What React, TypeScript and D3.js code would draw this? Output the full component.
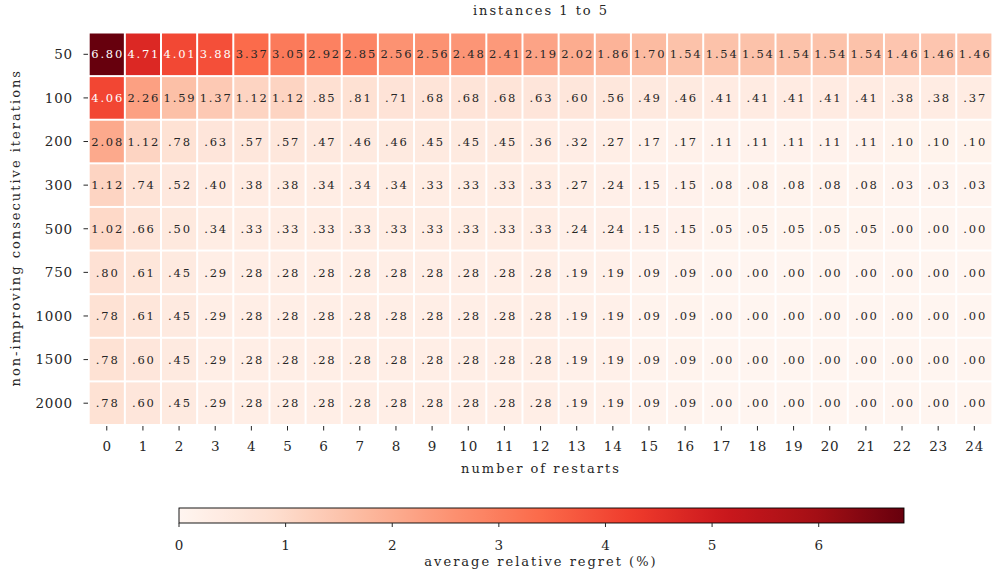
import React from "react";
import * as d3 from "d3";

// Axis categories
const restarts = [0, 1, 2, 3, 4, 5, 6, 7, 8, 9, 10, 11, 12, 13, 14, 15, 16, 17, 18, 19, 20, 21, 22, 23, 24];
const iterations = ["50", "100", "200", "300", "500", "750", "1000", "1500", "2000"];

// Average relative regret (%) per iteration limit, indexed by number of restarts
const regret50 = [6.80, 4.71, 4.01, 3.88, 3.37, 3.05, 2.92, 2.85, 2.56, 2.56, 2.48, 2.41, 2.19, 2.02, 1.86, 1.70, 1.54, 1.54, 1.54, 1.54, 1.54, 1.54, 1.46, 1.46, 1.46];
const regret100 = [4.06, 2.26, 1.59, 1.37, 1.12, 1.12, 0.85, 0.81, 0.71, 0.68, 0.68, 0.68, 0.63, 0.60, 0.56, 0.49, 0.46, 0.41, 0.41, 0.41, 0.41, 0.41, 0.38, 0.38, 0.37];
const regret200 = [2.08, 1.12, 0.78, 0.63, 0.57, 0.57, 0.47, 0.46, 0.46, 0.45, 0.45, 0.45, 0.36, 0.32, 0.27, 0.17, 0.17, 0.11, 0.11, 0.11, 0.11, 0.11, 0.10, 0.10, 0.10];
const regret300 = [1.12, 0.74, 0.52, 0.40, 0.38, 0.38, 0.34, 0.34, 0.34, 0.33, 0.33, 0.33, 0.33, 0.27, 0.24, 0.15, 0.15, 0.08, 0.08, 0.08, 0.08, 0.08, 0.03, 0.03, 0.03];
const regret500 = [1.02, 0.66, 0.50, 0.34, 0.33, 0.33, 0.33, 0.33, 0.33, 0.33, 0.33, 0.33, 0.33, 0.24, 0.24, 0.15, 0.15, 0.05, 0.05, 0.05, 0.05, 0.05, 0.00, 0.00, 0.00];
const regret750 = [0.80, 0.61, 0.45, 0.29, 0.28, 0.28, 0.28, 0.28, 0.28, 0.28, 0.28, 0.28, 0.28, 0.19, 0.19, 0.09, 0.09, 0.00, 0.00, 0.00, 0.00, 0.00, 0.00, 0.00, 0.00];
const regret1000 = [0.78, 0.61, 0.45, 0.29, 0.28, 0.28, 0.28, 0.28, 0.28, 0.28, 0.28, 0.28, 0.28, 0.19, 0.19, 0.09, 0.09, 0.00, 0.00, 0.00, 0.00, 0.00, 0.00, 0.00, 0.00];
const regret1500 = [0.78, 0.60, 0.45, 0.29, 0.28, 0.28, 0.28, 0.28, 0.28, 0.28, 0.28, 0.28, 0.28, 0.19, 0.19, 0.09, 0.09, 0.00, 0.00, 0.00, 0.00, 0.00, 0.00, 0.00, 0.00];
const regret2000 = [0.78, 0.60, 0.45, 0.29, 0.28, 0.28, 0.28, 0.28, 0.28, 0.28, 0.28, 0.28, 0.28, 0.19, 0.19, 0.09, 0.09, 0.00, 0.00, 0.00, 0.00, 0.00, 0.00, 0.00, 0.00];

const rows = [regret50, regret100, regret200, regret300, regret500, regret750, regret1000, regret1500, regret2000];

const colorbarTicks = [0, 1, 2, 3, 4, 5, 6];
const vmax = 6.8;

const W = 993;
const H = 575;
const FONT = "'DejaVu Serif', 'Liberation Serif', serif";
const INK = "#262626";

// Reds colormap: linear segments between the nine ColorBrewer anchors
const color = d3
  .scaleLinear<string>()
  .domain(d3.range(9).map((i) => (i / 8) * vmax))
  .range(d3.schemeReds[9])
  .interpolate(d3.interpolateRgb)
  .clamp(true);

function luminance(c: string): number {
  const rgb = d3.rgb(c);
  const lin = [rgb.r, rgb.g, rgb.b].map((v) => {
    const s = v / 255;
    return s <= 0.03928 ? s / 12.92 : Math.pow((s + 0.055) / 1.055, 2.4);
  });
  return 0.2126 * lin[0] + 0.7152 * lin[1] + 0.0722 * lin[2];
}

const fmt = (v: number) => {
  const s = d3.format(".2f")(v);
  return v < 1 ? s.replace(/^0/, "") : s;
};

export default function App() {
  const x = d3.scaleBand<number>().domain(restarts).range([88.7, 992.4]);
  const y = d3.scaleBand<string>().domain(iterations).range([32.5, 425]);
  const cb = d3.scaleLinear().domain([0, vmax]).range([179, 904]);

  const gap = 1;
  const cbTop = 508;
  const cbBottom = 523;
  const stops = d3.range(0, 1.0001, 0.02);

  const cellLS = 1.8;
  const tickLS = 0.8;
  const titleLS = 2;

  return (
    <svg
      width={W}
      height={H}
      viewBox={`0 0 ${W} ${H}`}
      style={{ position: "absolute", left: 0, top: 0, background: "#fff" }}
      fontFamily={FONT}
    >
      <defs>
        <linearGradient id="cbGrad" x1="0" x2="1" y1="0" y2="0">
          {stops.map((t) => (
            <stop key={t} offset={t} stopColor={color(t * vmax)} />
          ))}
        </linearGradient>
      </defs>

      {/* title */}
      <text x={540} y={15} textAnchor="middle" fontSize={13} letterSpacing={titleLS} dx={titleLS / 2} fill={INK}>
        instances 1 to 5
      </text>

      {/* heatmap cells */}
      {rows.map((row, ri) =>
        row.map((v, ci) => {
          const fill = color(v);
          const x0 = x(restarts[ci])!;
          const y0 = y(iterations[ri])!;
          const textFill = luminance(fill) > 0.28 ? INK : "#ffffff";
          return (
            <g key={`${ri}-${ci}`}>
              <rect
                x={x0 + gap}
                y={y0 + gap}
                width={x.bandwidth() - 2 * gap}
                height={y.bandwidth() - 2 * gap}
                fill={fill}
              />
              <text
                x={x0 + x.bandwidth() / 2}
                y={y0 + y.bandwidth() / 2}
                dx={cellLS / 2}
                dy="0.36em"
                textAnchor="middle"
                fontSize={11.5}
                letterSpacing={cellLS}
                fill={textFill}
              >
                {fmt(v)}
              </text>
            </g>
          );
        })
      )}

      {/* y axis */}
      {iterations.map((it) => {
        const cy = y(it)! + y.bandwidth() / 2;
        return (
          <g key={`y-${it}`}>
            <line x1={83.5} x2={88} y1={cy} y2={cy} stroke={INK} strokeWidth={1} />
            <text x={73} y={cy} dy="0.36em" textAnchor="end" fontSize={13.5} letterSpacing={tickLS} fill={INK}>
              {it}
            </text>
          </g>
        );
      })}

      {/* x axis */}
      {restarts.map((r) => {
        const cx = x(r)! + x.bandwidth() / 2;
        return (
          <g key={`x-${r}`}>
            <line x1={cx} x2={cx} y1={426} y2={430.5} stroke={INK} strokeWidth={1} />
            <text x={cx} y={451} dx={tickLS / 2} textAnchor="middle" fontSize={13.5} letterSpacing={tickLS} fill={INK}>
              {r}
            </text>
          </g>
        );
      })}

      <text x={540} y={473} dx={titleLS / 2} textAnchor="middle" fontSize={13} letterSpacing={titleLS} fill={INK}>
        number of restarts
      </text>
      <text
        transform={`translate(20, ${(32.5 + 425) / 2}) rotate(-90)`}
        textAnchor="middle"
        fontSize={13}
        letterSpacing={titleLS}
        dx={titleLS / 2}
        fill={INK}
      >
        non-improving consecutive iterations
      </text>

      {/* colorbar */}
      <rect x={cb(0)} y={cbTop} width={cb(vmax) - cb(0)} height={cbBottom - cbTop} fill="url(#cbGrad)" />
      <rect
        x={cb(0)}
        y={cbTop}
        width={cb(vmax) - cb(0)}
        height={cbBottom - cbTop}
        fill="none"
        stroke="#000"
        strokeWidth={0.9}
      />
      {colorbarTicks.map((t) => (
        <g key={`cb-${t}`}>
          <line x1={cb(t)} x2={cb(t)} y1={cbBottom} y2={cbBottom + 4} stroke={INK} strokeWidth={1} />
          <text x={cb(t)} y={550} dx={tickLS / 2} textAnchor="middle" fontSize={13.5} letterSpacing={tickLS} fill={INK}>
            {t}
          </text>
        </g>
      ))}
      <text x={540} y={566} dx={titleLS / 2} textAnchor="middle" fontSize={13} letterSpacing={titleLS} fill={INK}>
        average relative regret (%)
      </text>
    </svg>
  );
}
